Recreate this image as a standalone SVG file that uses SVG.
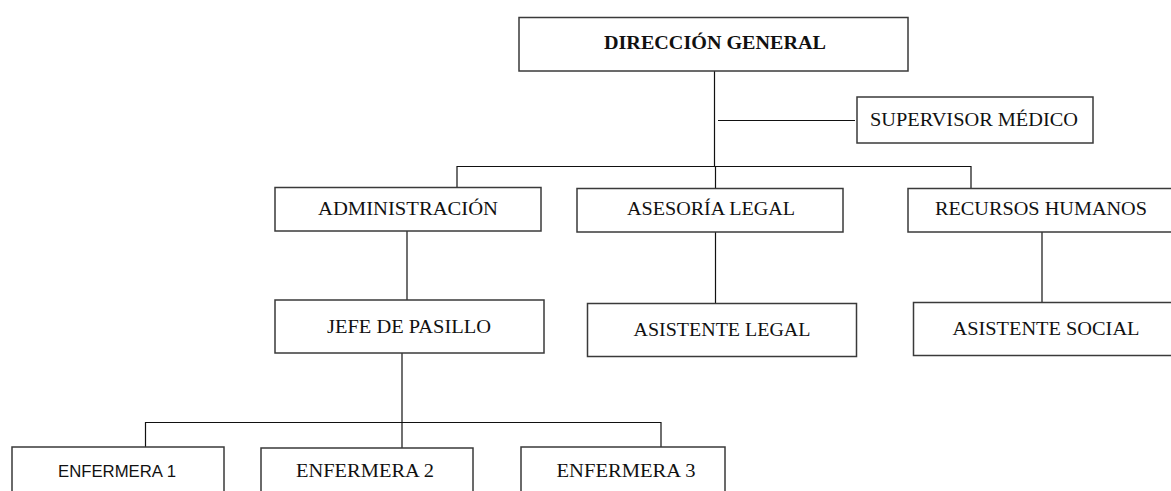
<svg xmlns="http://www.w3.org/2000/svg" width="1171" height="491" viewBox="0 0 1171 491">
<style>
.box{fill:#fff;stroke:#3a3a3a;stroke-width:1.5}
.ln{fill:none;stroke:#111;stroke-width:1.2}
.t{font-family:"Liberation Serif","Times New Roman",serif;font-size:18px;fill:#111;text-anchor:middle}
.b{font-weight:bold}
.s{font-family:"Liberation Sans",Arial,sans-serif;font-size:16px;fill:#111;text-anchor:middle}
</style>
<rect width="1171" height="491" fill="#fff"/>
<g id="connectors">
<path class="ln" d="M714.5 71 V166.5"/>
<path class="ln" d="M718 120.5 H855"/>
<path class="ln" d="M457 188 V166.5 H971 V188"/>
<path class="ln" d="M715.5 166.5 V188"/>
<path class="ln" d="M407 231 V300"/>
<path class="ln" d="M715.5 232 V303"/>
<path class="ln" d="M1042 232 V302"/>
<path class="ln" d="M402 353 V422.5"/>
<path class="ln" d="M145.5 447 V422.5 H661 V447"/>
<path class="ln" d="M402 422.5 V448"/>
</g>
<g id="direccion-general">
<rect class="box" x="519" y="17.5" width="389" height="53.5"/>
<text class="t b" x="715" y="49" textLength="222" lengthAdjust="spacingAndGlyphs">DIRECCIÓN GENERAL</text>
</g>
<g id="supervisor-medico">
<rect class="box" x="857" y="97" width="236" height="46"/>
<text class="t" x="974" y="126" textLength="208" lengthAdjust="spacingAndGlyphs">SUPERVISOR  MÉDICO</text>
</g>
<g id="administracion">
<rect class="box" x="275" y="187.5" width="266" height="43.5"/>
<text class="t" x="408" y="215" textLength="180" lengthAdjust="spacingAndGlyphs">ADMINISTRACIÓN</text>
</g>
<g id="asesoria-legal">
<rect class="box" x="577" y="188.5" width="266" height="43.5"/>
<text class="t" x="711" y="215" textLength="168" lengthAdjust="spacingAndGlyphs">ASESORÍA LEGAL</text>
</g>
<g id="recursos-humanos">
<rect class="box" x="908" y="188.5" width="270" height="43.5"/>
<text class="t" x="1041" y="215" textLength="212" lengthAdjust="spacingAndGlyphs">RECURSOS HUMANOS</text>
</g>
<g id="jefe-de-pasillo">
<rect class="box" x="275" y="300" width="269" height="53"/>
<text class="t" x="409" y="333" textLength="164" lengthAdjust="spacingAndGlyphs">JEFE DE PASILLO</text>
</g>
<g id="asistente-legal">
<rect class="box" x="587.5" y="303.5" width="269" height="53"/>
<text class="t" x="722" y="335.5" textLength="177" lengthAdjust="spacingAndGlyphs">ASISTENTE  LEGAL</text>
</g>
<g id="asistente-social">
<rect class="box" x="913.5" y="302.5" width="265" height="53"/>
<text class="t" x="1046" y="335" textLength="187" lengthAdjust="spacingAndGlyphs">ASISTENTE  SOCIAL</text>
</g>
<g id="enfermera-1">
<rect class="box" x="12" y="447" width="212" height="60"/>
<text class="s" x="117" y="477" textLength="118" lengthAdjust="spacingAndGlyphs">ENFERMERA 1</text>
</g>
<g id="enfermera-2">
<rect class="box" x="261" y="448" width="212" height="60"/>
<text class="t" x="365" y="477" textLength="138" lengthAdjust="spacingAndGlyphs">ENFERMERA  2</text>
</g>
<g id="enfermera-3">
<rect class="box" x="521" y="447" width="204" height="60"/>
<text class="t" x="626" y="477" textLength="139" lengthAdjust="spacingAndGlyphs">ENFERMERA  3</text>
</g>
</svg>
